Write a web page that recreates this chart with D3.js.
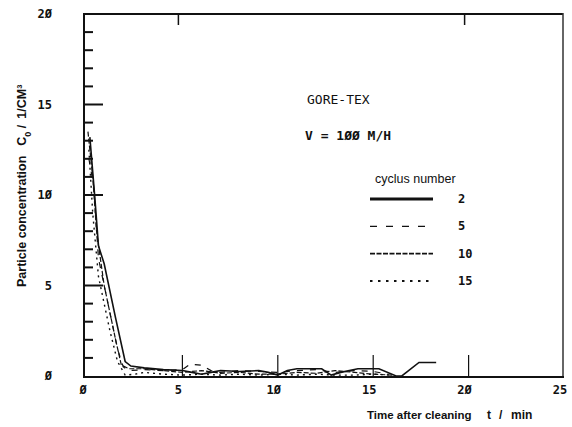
<!DOCTYPE html>
<html>
<head>
<meta charset="utf-8">
<script src="https://cdn.jsdelivr.net/npm/d3@7"></script>
<style>
  html, body { margin: 0; padding: 0; background: #fff; }
  svg { display: block; }
</style>
</head>
<body>
<div id="chart"></div>
<script>
// ---- data ----
const cycles = ["2", "5", "10", "15"];
const series2 = [[0.15,13.2],[0.4,10.0],[0.6,7.2],[0.9,6.2],[1.5,3.2],[2.0,0.8],[2.3,0.55],[3,0.45],[4,0.35],[5,0.3],[5.5,0.2],[6,0.1],[6.5,0.2],[7,0.3],[8,0.25],[9,0.3],[9.5,0.2],[10,0.05],[10.5,0.3],[11,0.4],[12.3,0.4],[12.8,0.05],[13.3,0.2],[14.2,0.4],[15.3,0.4],[16.2,0.0],[16.5,0.0],[17.4,0.75],[18.3,0.75]];
const series5 = [[0.1,12.0],[0.35,10.5],[0.6,6.5],[1.6,1.5],[1.9,0.5],[2.2,0.3],[3,0.35],[4,0.3],[5,0.35],[5.4,0.65],[6,0.6],[6.5,0.3],[7,0.2],[8,0.3],[9,0.25],[10,0.2],[11,0.3],[12,0.35],[13,0.2],[14,0.3],[15,0.25],[15.8,0.1]];
const series10 = [[0.05,13.5],[0.3,11.0],[0.5,8.0],[0.9,5.0],[1.5,2.0],[1.8,0.6],[2.2,0.4],[3,0.4],[4,0.3],[5,0.2],[6,0.3],[7,0.15],[8,0.2],[9,0.1],[10,0.1],[11,0.2],[12,0.15],[13,0.3],[14,0.2],[15,0.1],[16,0.05]];
const series15 = [[0.1,12.5],[0.3,9.0],[0.6,5.5],[1.2,2.5],[1.6,0.8],[2.0,0.05],[2.5,0.1],[3,0.2],[4,0.1],[5,0.05],[6,0.1],[7,0.05],[8,0.1],[9,0.05],[10,0.1],[11,0.05],[12,0.1],[13,0.05],[14,0.05],[15,0.1],[16,0.05]];
const xTicks = [0, 5, 10, 15, 20, 25];
const yTicks = [0, 5, 10, 15, 20];
const xTickLabels = ["Ø", "5", "1Ø", "15", "2Ø", "25"];
const yTickLabels = ["Ø", "5", "1Ø", "15", "2Ø"];
const topTicks = [5, 20];
const material = "GORE-TEX";
const velocity = "V = 1ØØ M/H";
const legendTitle = "cyclus number";
const xTitle = "Time after cleaning";
const xUnitParts = ["t", "/", "min"];

const W = 572, H = 427;
const svg = d3.select("#chart").append("svg").attr("width", W).attr("height", H);

const x = d3.scaleLinear().domain([0, 25]).range([87, 564]);
const y = d3.scaleLinear().domain([0, 20]).range([376, 14]);
const ink = "#111";

// frame
svg.append("line").attr("x1", 84).attr("x2", 84).attr("y1", 13).attr("y2", 378).attr("stroke", ink).attr("stroke-width", 2);
svg.append("line").attr("x1", 83).attr("x2", 563).attr("y1", 14).attr("y2", 14).attr("stroke", ink).attr("stroke-width", 2);
svg.append("line").attr("x1", 563).attr("x2", 563).attr("y1", 13).attr("y2", 378).attr("stroke", "#333").attr("stroke-width", 1.5);
svg.append("line").attr("x1", 84).attr("x2", 564).attr("y1", 377).attr("y2", 377).attr("stroke", ink).attr("stroke-width", 2);

// y ticks (minor every 1 unit, major every 5) pointing inward
const yMinor = d3.range(1, 20);
svg.selectAll(".ymin").data(yMinor).enter().append("line")
  .attr("x1", 84).attr("x2", d => d % 5 === 0 ? 103 : 93)
  .attr("y1", d => y(d)).attr("y2", d => y(d))
  .attr("stroke", ink).attr("stroke-width", 2);

// x ticks pointing up
svg.selectAll(".xt").data(xTicks.filter(d => d > 0 && d < 25)).enter().append("line")
  .attr("x1", d => x(d)).attr("x2", d => x(d))
  .attr("y1", 377).attr("y2", 355)
  .attr("stroke", ink).attr("stroke-width", 1.2);
// top ticks pointing down
svg.selectAll(".tt").data(topTicks).enter().append("line")
  .attr("x1", d => x(d) - 4).attr("x2", d => x(d) - 4)
  .attr("y1", 14).attr("y2", 25)
  .attr("stroke", ink).attr("stroke-width", 1.5);

// tick labels
const mono = "'DejaVu Sans Mono', monospace";
svg.selectAll(".xl").data(xTicks).enter().append("text")
  .attr("x", d => x(d) - 4).attr("y", 394)
  .attr("text-anchor", "middle")
  .attr("font-family", mono).attr("font-weight", "bold").attr("font-size", 12)
  .attr("fill", ink)
  .text((d, i) => xTickLabels[i]);
svg.selectAll(".yl").data(yTicks).enter().append("text")
  .attr("x", 52).attr("y", d => y(d) + 4)
  .attr("text-anchor", "end")
  .attr("font-family", mono).attr("font-weight", "bold").attr("font-size", 12)
  .attr("fill", ink)
  .text((d, i) => yTickLabels[i]);

// series
const line = d3.line().x(d => x(d[0])).y(d => y(d[1]));
const styles = [
  { data: series2, dash: null, w: 1.6 },
  { data: series5, dash: "6,7", w: 1.2 },
  { data: series10, dash: "5,2", w: 1.2 },
  { data: series15, dash: "2,4", w: 1.4 }
];
styles.forEach(s => {
  svg.append("path").attr("d", line(s.data))
    .attr("fill", "none").attr("stroke", ink)
    .attr("stroke-width", s.w)
    .attr("stroke-dasharray", s.dash);
});

// annotations
svg.append("text").attr("x", 307).attr("y", 104)
  .attr("font-family", mono).attr("font-size", 13).attr("fill", ink).text(material);
svg.append("text").attr("x", 305).attr("y", 140)
  .attr("font-family", mono).attr("font-size", 13).attr("font-weight", "bold").attr("fill", ink)
  .attr("xml:space", "preserve").style("white-space", "pre").text(velocity);

// legend
svg.append("text").attr("x", 375).attr("y", 183)
  .attr("font-family", "'Liberation Sans', Arial, sans-serif").attr("font-size", 12.5)
  .attr("fill", ink).text(legendTitle);
const legY = d3.scalePoint().domain(cycles).range([199, 281]);
const legStyles = [
  { dash: null, w: 3 },
  { dash: "7,9", w: 1.3 },
  { dash: "5,1.5", w: 1.8 },
  { dash: "2.5,5.5", w: 2 }
];
cycles.forEach((c, i) => {
  svg.append("line").attr("x1", 370).attr("x2", 433)
    .attr("y1", legY(c)).attr("y2", legY(c))
    .attr("stroke", ink).attr("stroke-width", legStyles[i].w)
    .attr("stroke-dasharray", legStyles[i].dash);
  svg.append("text").attr("x", 458).attr("y", legY(c) + 4)
    .attr("font-family", mono).attr("font-weight", "bold").attr("font-size", 12)
    .attr("fill", ink).text(c);
});

// axis titles
const sans = "'Liberation Sans', Arial, sans-serif";
svg.append("text").attr("x", 367).attr("y", 419)
  .attr("font-family", sans).attr("font-weight", "bold").attr("font-size", 11.5).attr("fill", ink)
  .text(xTitle);
const unitX = [487, 499, 511];
xUnitParts.forEach((p, i) => {
  svg.append("text").attr("x", unitX[i]).attr("y", 419)
    .attr("font-family", sans).attr("font-weight", "bold").attr("font-size", 12).attr("fill", ink)
    .text(p);
});

const yt = svg.append("text")
  .attr("transform", "translate(26,287) rotate(-90)")
  .attr("font-family", sans).attr("font-weight", "bold").attr("font-size", 12.5).attr("fill", ink);
yt.append("tspan").text("Particle concentration");
yt.append("tspan").attr("dx", 10).text("C");
yt.append("tspan").attr("baseline-shift", "sub").attr("font-size", 9).text("0");
yt.append("tspan").text(" /");
yt.append("tspan").attr("dx", 6).text("1/CM³");
</script>
</body>
</html>
